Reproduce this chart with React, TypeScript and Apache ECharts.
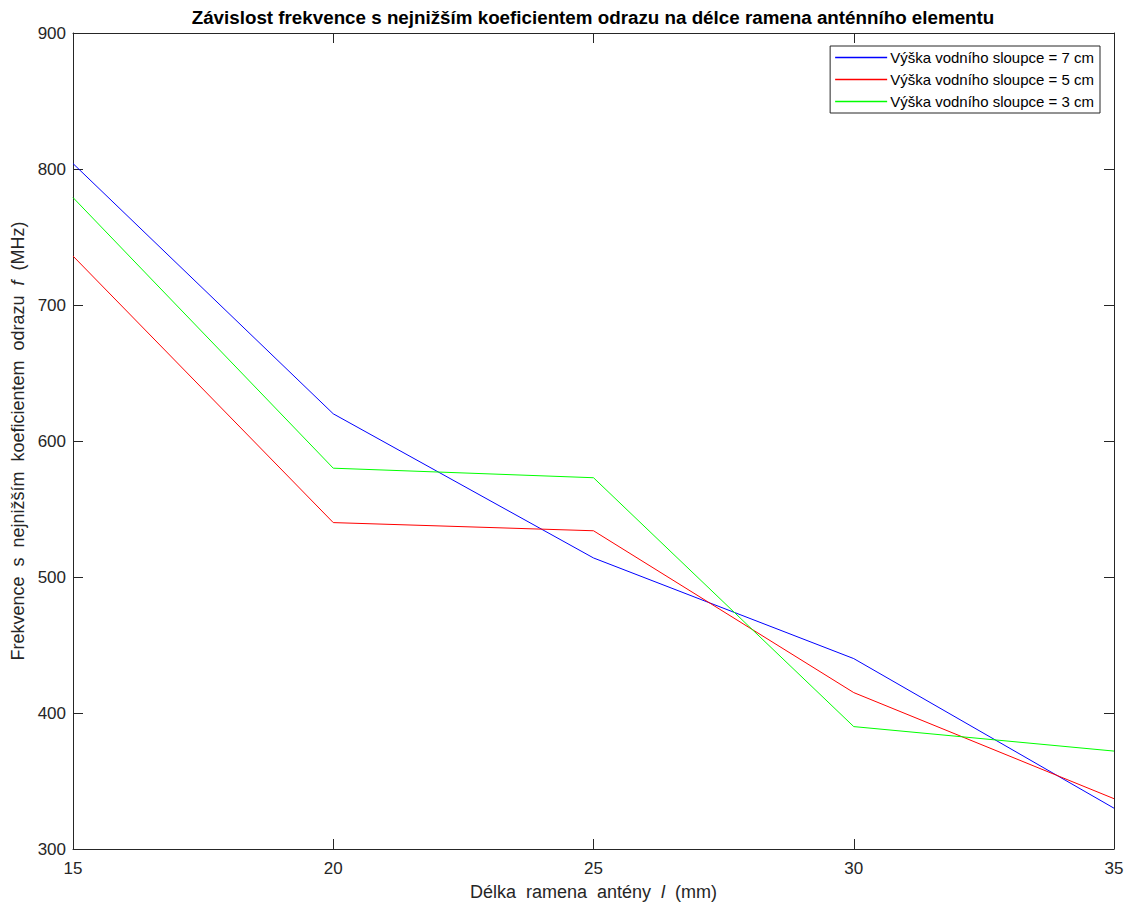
import React, { useEffect, useRef } from "react";
import * as echarts from "echarts";

const xValues = [15, 20, 25, 30, 35];
const h7 = [804, 620, 514, 440, 330];
const h5 = [736, 540, 534, 415, 337];
const h3 = [779, 580, 573, 390, 372];
const seriesNames = [
  "Výška vodního sloupce = 7 cm",
  "Výška vodního sloupce = 5 cm",
  "Výška vodního sloupce = 3 cm",
];
const seriesColors = ["#0000ff", "#ff0000", "#00ff00"];
const titleText = "Závislost frekvence s nejnižším koeficientem odrazu na délce ramena anténního elementu";

const FONT = '"Liberation Sans", Arial, sans-serif';
const AX = "#262626";

export default function App() {
  const ref = useRef<HTMLDivElement>(null);
  useEffect(() => {
    const chart = echarts.init(ref.current!, null, { renderer: "svg" });
    const data = [h7, h5, h3];
    const axisCommon = {
      axisLine: { show: true, onZero: false, lineStyle: { color: AX, width: 1 } },
      axisTick: { show: true, inside: true, length: 10, lineStyle: { color: AX } },
      splitLine: { show: false },
    };
    const nameRich = {
      n: { fontSize: 18, color: AX, fontFamily: FONT },
      i: { fontSize: 18, color: AX, fontFamily: FONT, fontStyle: "italic" },
    };
    chart.setOption({
      animation: false,
      backgroundColor: "#ffffff",
      textStyle: { fontFamily: FONT },
      grid: { left: 73, right: 13, top: 33, bottom: 53, containLabel: false },
      graphic: [
        {
          type: "text",
          x: 593,
          y: 17,
          style: {
            text: titleText,
            font: `bold 18.8px ${FONT}`,
            fill: "#000",
            textAlign: "center",
            textVerticalAlign: "middle",
          },
        },
      ],
      legend: {
        orient: "vertical",
        right: 27,
        top: 46,
        backgroundColor: "#fff",
        borderColor: AX,
        borderWidth: 1,
        borderRadius: 0,
        padding: [3, 6, 3, 5],
        itemGap: 5,
        itemWidth: 52,
        itemHeight: 1.5,
        icon: "rect",
        textStyle: {
          fontFamily: FONT,
          fontSize: 15,
          lineHeight: 17,
          color: "#000",
          padding: [0, 0, 0, -2],
        },
        data: seriesNames,
      },
      xAxis: [
        {
          type: "value",
          min: 15,
          max: 35,
          interval: 5,
          position: "bottom",
          ...axisCommon,
          axisLabel: { color: AX, fontSize: 17, margin: 11, fontFamily: FONT },
          name: "{n|Délka  ramena  antény  }{i|l}{n|  (mm)}",
          nameLocation: "middle",
          nameGap: 34,
          nameTextStyle: { rich: nameRich },
        },
        {
          type: "value",
          min: 15,
          max: 35,
          interval: 5,
          position: "top",
          ...axisCommon,
          axisLabel: { show: false },
        },
      ],
      yAxis: [
        {
          type: "value",
          min: 300,
          max: 900,
          interval: 100,
          position: "left",
          ...axisCommon,
          axisLabel: { color: AX, fontSize: 17, margin: 7, fontFamily: FONT },
          name: "{n|Frekvence  s  nejnižším  koeficientem  odrazu  }{i|f}{n|  (MHz)}",
          nameLocation: "middle",
          nameGap: 45,
          nameTextStyle: { rich: nameRich },
        },
        {
          type: "value",
          min: 300,
          max: 900,
          interval: 100,
          position: "right",
          ...axisCommon,
          axisLabel: { show: false },
        },
      ],
      series: data.map((d, i) => ({
        name: seriesNames[i],
        type: "line",
        xAxisIndex: 0,
        yAxisIndex: 0,
        symbol: "none",
        showSymbol: false,
        color: seriesColors[i],
        lineStyle: { color: seriesColors[i], width: 1 },
        data: d.map((v, j) => [xValues[j], v]),
      })),
    });
    return () => chart.dispose();
  }, []);
  return (
    <div
      ref={ref}
      style={{ position: "fixed", left: 0, top: 0, width: 1127, height: 906 }}
    />
  );
}
